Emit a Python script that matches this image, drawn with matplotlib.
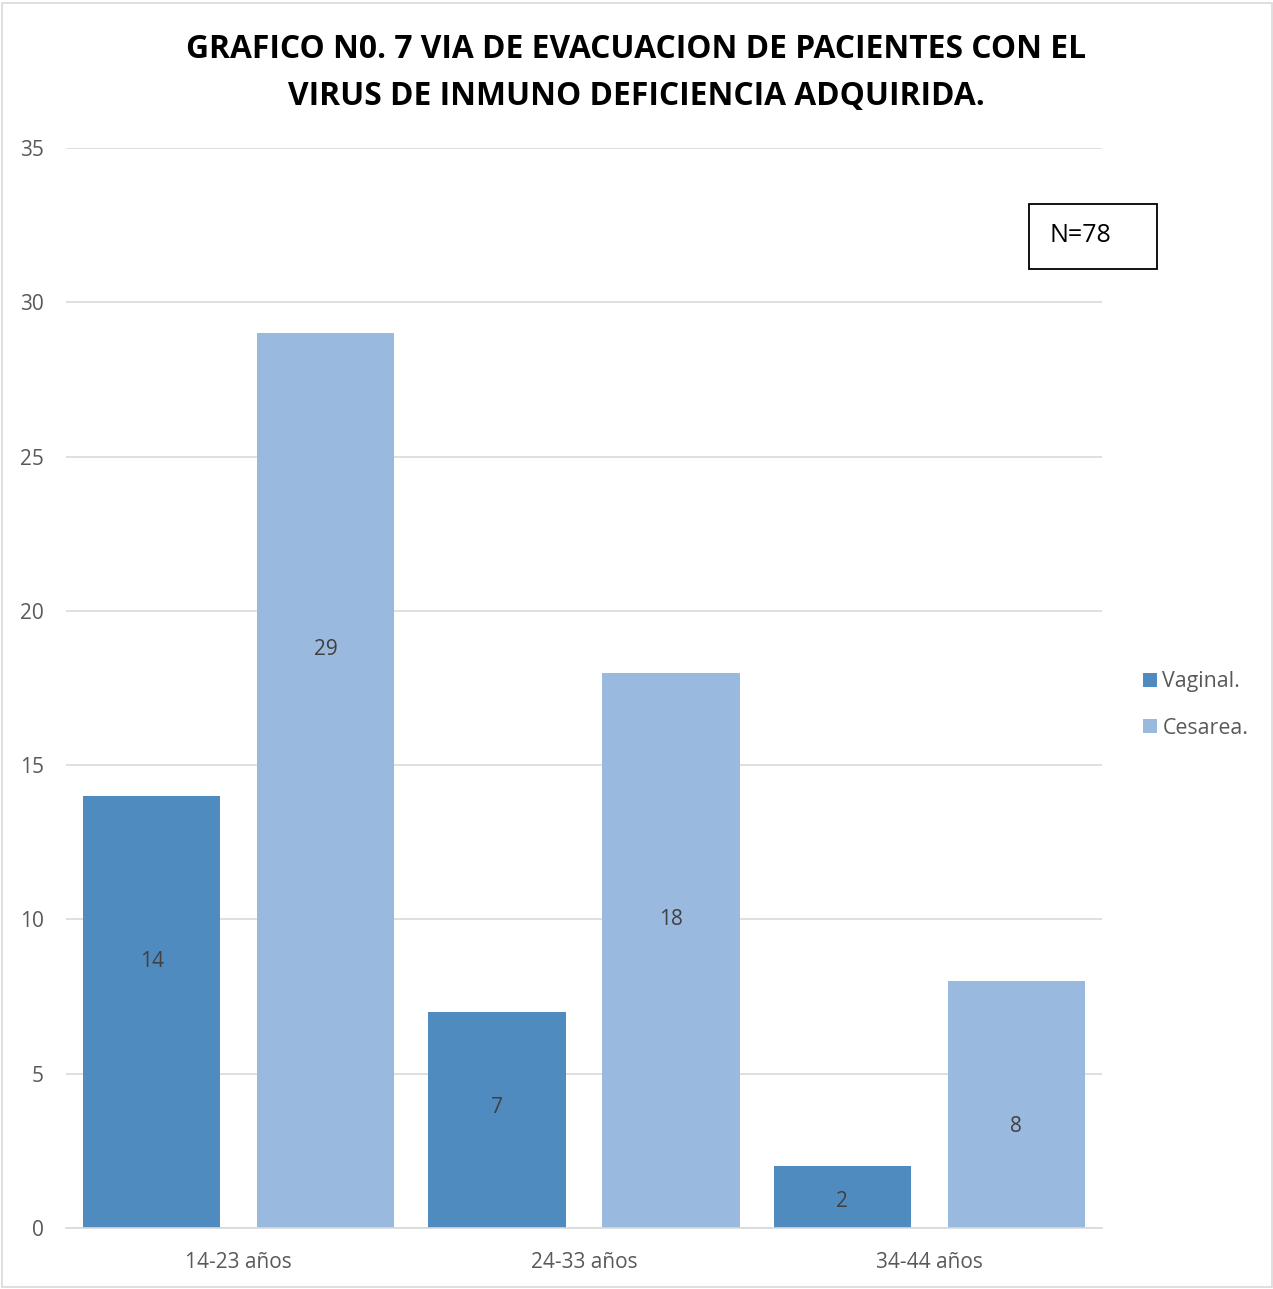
import matplotlib.pyplot as plt
import numpy as np
from matplotlib.patches import Rectangle

categories = ["14-23 años", "24-33 años", "34-44 años"]
vaginal = [14, 7, 2]
cesarea = [29, 18, 8]
series_names = ["Vaginal.", "Cesarea."]
title = "GRAFICO N0. 7 VIA DE EVACUACION DE PACIENTES CON EL\nVIRUS DE INMUNO DEFICIENCIA ADQUIRIDA."
n_label = "N=78"

# where each data label sits (data units), as placed in the original
LABEL_Y_VAGINAL = [8.65, 3.9, 0.87]
LABEL_Y_CESAREA = [18.75, 10.0, 3.3]

COLORS = ["#4F8BBE", "#99B9DF"]
TEXT = "#595959"
W, H = 1273, 1289

plt.rcParams["font.family"] = ["Open Sans", "DejaVu Sans"]

fig = plt.figure(figsize=(W / 100, H / 100), dpi=100)
ax = fig.add_axes([66 / W, 61 / H, 1036 / W, 1080 / H])

x = np.arange(len(categories))
width = 0.397
off = 0.252
bars_v = ax.bar(x - off, vaginal, width, color=COLORS[0], label=series_names[0], zorder=2)
bars_c = ax.bar(x + off, cesarea, width, color=COLORS[1], label=series_names[1], zorder=2)

for bars, ys in ((bars_v, LABEL_Y_VAGINAL), (bars_c, LABEL_Y_CESAREA)):
    for b, y in zip(bars, ys):
        ax.text(b.get_x() + b.get_width() / 2, y, f"{b.get_height():.0f}", ha="center",
                va="center", fontsize=15, color="#404040", zorder=3)

ax.set_xlim(-0.5, 2.5)
ax.set_ylim(0, 35)
ax.set_yticks(range(0, 36, 5))
ax.set_xticks(x)
ax.set_xticklabels(categories)
ax.yaxis.grid(True, color="#D9D9D9", linewidth=1.2, zorder=0)
ax.set_axisbelow(True)
for s in ["top", "right", "left"]:
    ax.spines[s].set_visible(False)
ax.spines["bottom"].set_color("#D9D9D9")
ax.spines["bottom"].set_linewidth(1.2)
ax.tick_params(axis="both", length=0, labelsize=15, colors=TEXT)
ax.tick_params(axis="y", pad=16)
ax.tick_params(axis="x", pad=17)

fig.text(0.5, 1 - 73 / H, title, ha="center", va="center", fontsize=22.9,
         fontweight="bold", color="black", linespacing=1.55)

leg = fig.legend(handles=[bars_v, bars_c], loc="center left",
                 bbox_to_anchor=(1124 / W, 1 - 705 / H), frameon=False,
                 fontsize=15.4, labelcolor=TEXT, handlelength=0.65, handleheight=0.65,
                 handletextpad=0.25, labelspacing=1.2)

fig.patches.append(Rectangle((1029 / W, 1 - 269 / H), 128 / W, 65 / H,
                             transform=fig.transFigure, fill=False, edgecolor="black",
                             linewidth=1.3))
fig.text(1049 / W, 1 - 236 / H, n_label, ha="left", va="center", fontsize=18, color="black")

fig.patches.append(Rectangle((2 / W, 2 / H), 1 - 3 / W, 1 - 5 / H,
                             transform=fig.transFigure, fill=False, edgecolor="#D9D9D9",
                             linewidth=1.2))

fig.savefig("out.png", dpi=100, facecolor="white")
